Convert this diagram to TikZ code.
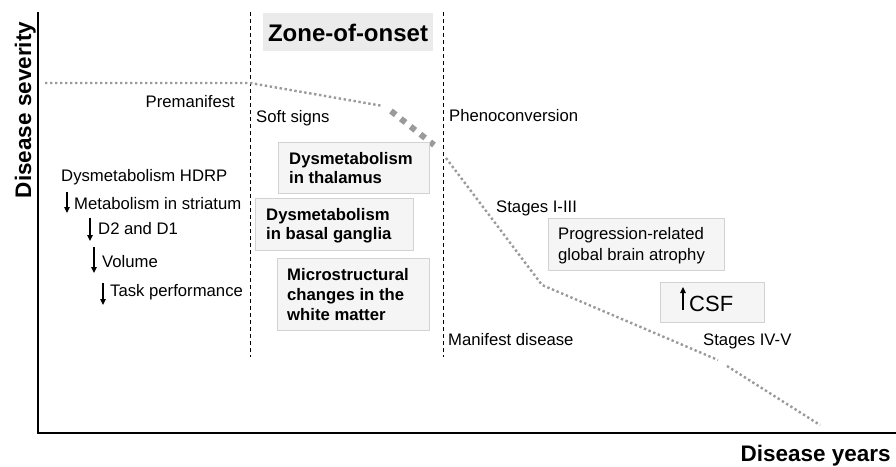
\documentclass[tikz,border=0pt]{standalone}
\usepackage{fontspec}
\setmainfont{Liberation Sans}
\usetikzlibrary{arrows.meta}
\definecolor{curvegray}{HTML}{9A9A9A}
\definecolor{boxfill}{HTML}{F5F5F5}
\definecolor{boxline}{HTML}{D2D2D2}
\definecolor{zonefill}{HTML}{EBEBEB}
\newcommand{\lns}[1]{\begin{tabular}[t]{@{}l@{}}#1\end{tabular}}
\begin{document}
\begin{tikzpicture}[x=1pt,y=-1pt,
  lbl/.style={font=\fontsize{16.7}{20}\selectfont, inner sep=0pt, anchor=base west},
  bt/.style={font=\bfseries\fontsize{16.7}{19}\selectfont, inner sep=0pt, anchor=base west},
  axlbl/.style={font=\bfseries\fontsize{22.5}{26}\selectfont, inner sep=0pt},
  infobox/.style={draw=boxline, fill=boxfill, line width=1.1pt, inner sep=0pt, anchor=north west},
  zonebox/.style={fill=zonefill, inner sep=0pt, anchor=north west},
  vdash/.style={black, line width=0.9pt, dash pattern=on 4pt off 3pt},
  thindots/.style={curvegray, line width=2.4pt, dash pattern=on 2.4pt off 2.6pt},
  thickdots/.style={curvegray, line width=6pt, dash pattern=on 6pt off 6.5pt},
  arr/.style={black, line width=1.1pt, -{Triangle[width=5.5pt,length=6pt]}}
]
\useasboundingbox (0,0) rectangle (896,466);

% axes
\coordinate (ytop) at (38,12);
\coordinate (orig) at (38,433);
\coordinate (xend) at (896,433);
\draw[line width=1.2pt] (ytop) -- (orig) -- (xend);
\node[axlbl, rotate=90, anchor=base] (ylab) at (31,110) {Disease severity};
\node[axlbl, anchor=base east] (xlab) at (891,461) {Disease years};

% zone lines
\coordinate (z1t) at (250,12); \coordinate (z1b) at (250,357);
\coordinate (z2t) at (443,12); \coordinate (z2b) at (443,357);
\draw[vdash] (z1t) -- (z1b);
\draw[vdash] (z2t) -- (z2b);

\node[zonebox, minimum width=170pt, minimum height=38pt] (zone) at (263,13) {};
\node[font=\bfseries\fontsize{24}{28}\selectfont, inner sep=0pt, anchor=base] (zonet) at (348,41) {Zone-of-onset};

% disease curve
\coordinate (c0) at (45,83);
\coordinate (c1) at (250,83);
\coordinate (c2) at (383,106);
\coordinate (c3) at (391,111);
\coordinate (c4) at (434,145);
\coordinate (c5) at (446,158);
\coordinate (c6) at (542,285);
\coordinate (c7) at (718,360);
\coordinate (c8) at (727,366);
\coordinate (c9) at (820,425);
\draw[thindots] (c0) -- (c1) -- (c2);
\draw[thickdots] (c3) -- (c4);
\draw[thindots] (c5) -- (c6) -- (c7);
\draw[thindots] (c8) -- (c9);

% left labels
\node[lbl, anchor=base east] (pre) at (235,107) {Premanifest};
\node[lbl] (soft) at (256,122) {Soft signs};
\node[lbl] (pheno) at (449,121) {Phenoconversion};
\node[lbl] (hdrp) at (61,181) {Dysmetabolism HDRP};
\node[lbl] (m1) at (74,209) {Metabolism in striatum};
\node[lbl] (m2) at (98,234) {D2 and D1};
\node[lbl] (m3) at (102,267) {Volume};
\node[lbl] (m4) at (110,296) {Task performance};
\coordinate (a1s) at (67,192); \coordinate (a1e) at (67,213);
\coordinate (a2s) at (90,218); \coordinate (a2e) at (90,241);
\coordinate (a3s) at (94,247); \coordinate (a3e) at (94,273);
\coordinate (a4s) at (103,283); \coordinate (a4e) at (103,305);
\draw[arr] (a1s) -- (a1e);
\draw[arr] (a2s) -- (a2e);
\draw[arr] (a3s) -- (a3e);
\draw[arr] (a4s) -- (a4e);

% zone boxes
\node[infobox, minimum width=151pt, minimum height=51pt] (b1) at (278,142) {};
\node[bt] (t1) at (289,164) {\lns{Dysmetabolism\\in thalamus}};
\node[infobox, minimum width=158pt, minimum height=52pt] (b2) at (255,198) {};
\node[bt] (t2) at (266,220) {\lns{Dysmetabolism\\in basal ganglia}};
\node[infobox, minimum width=152pt, minimum height=72pt] (b3) at (277,258) {};
\node[bt, font=\bfseries\fontsize{16.7}{20}\selectfont] (t3) at (287,280) {\lns{Microstructural\\changes in the\\white matter}};

% right side
\node[lbl] (st13) at (496,212) {Stages I-III};
\node[infobox, minimum width=176pt, minimum height=52pt] (b4) at (548,218) {};
\node[lbl, font=\fontsize{16.7}{21}\selectfont] (t4) at (558,239) {\lns{Progression-related\\global brain atrophy}};
\node[infobox, minimum width=104pt, minimum height=40pt] (b5) at (660,282) {};
\node[lbl, font=\fontsize{22}{26}\selectfont] (csf) at (689,311) {CSF};
\coordinate (a5s) at (683,310); \coordinate (a5e) at (683,287);
\draw[arr] (a5s) -- (a5e);
\node[lbl] (manif) at (448,345) {Manifest disease};
\node[lbl] (st45) at (703,345) {Stages IV-V};
\end{tikzpicture}
\end{document}
